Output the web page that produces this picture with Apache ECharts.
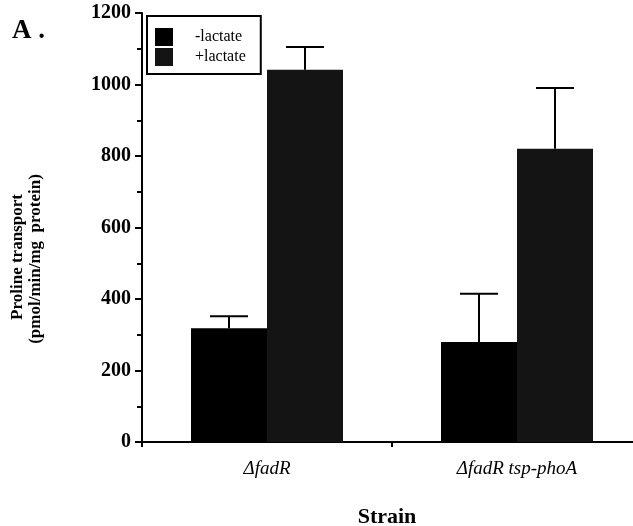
<!DOCTYPE html>
<html><head><meta charset="utf-8">
<script src="https://cdn.jsdelivr.net/npm/echarts@6/dist/echarts.min.js"></script>
<style>html,body{margin:0;padding:0;background:#fff;overflow:hidden}#c{width:650px;height:526px}</style>
</head><body><div id="c"></div>
<script>
const categories = ['ΔfadR', 'ΔfadR tsp-phoA'];
const seriesNames = ['-lactate', '+lactate'];
const minusLactate = [318, 280];
const plusLactate = [1041, 820];
const minusLactateErr = [34, 135];
const plusLactateErr = [64, 170];
const yTicks = [0, 200, 400, 600, 800, 1000, 1200];

const FONT = 'Liberation Serif';
const BAR_W = 76;
const chart = echarts.init(document.getElementById('c'), null, {renderer: 'canvas'});

function errSeries(vals, errs, side) {
  return {
    type: 'custom',
    z: 5,
    data: vals.map((v, i) => [i, v, errs[i]]),
    encode: {x: 0, y: 1},
    renderItem: function (params, api) {
      const ci = api.value(0), v = api.value(1), e = api.value(2);
      const p0 = api.coord([ci, v]);
      const p1 = api.coord([ci, v + e]);
      const x = p0[0] + side * BAR_W / 2;
      const st = {stroke: '#000', lineWidth: 2};
      return {type: 'group', children: [
        {type: 'line', shape: {x1: x, y1: p0[1], x2: x, y2: p1[1]}, style: st},
        {type: 'line', shape: {x1: x - 19, y1: p1[1], x2: x + 19, y2: p1[1]}, style: st}
      ]};
    }
  };
}

chart.setOption({
  animation: false,
  backgroundColor: '#fff',
  grid: {left: 142, right: 8, top: 13, bottom: 84},
  legend: {
    orient: 'vertical', left: 147, top: 16,
    data: seriesNames,
    borderColor: '#000', borderWidth: 2,
    padding: [12, 15, 8, 8],
    itemWidth: 18, itemHeight: 18, itemGap: 2,
    icon: 'rect',
    textStyle: {fontFamily: FONT, fontSize: 16, color: '#000', padding: [0, 0, 0, 17]}
  },
  xAxis: {
    type: 'category', data: categories,
    axisLine: {lineStyle: {color: '#000', width: 2}},
    axisTick: {show: true, length: 5, lineStyle: {color: '#000', width: 2}},
    axisLabel: {fontFamily: FONT, fontStyle: 'italic', fontSize: 19, color: '#000', margin: 17}
  },
  yAxis: {
    type: 'value', min: yTicks[0], max: yTicks[yTicks.length - 1], interval: 200,
    axisLine: {show: true, lineStyle: {color: '#000', width: 2}},
    axisTick: {show: true, length: 7, lineStyle: {color: '#000', width: 2}},
    minorTick: {show: true, splitNumber: 2, length: 5, lineStyle: {color: '#000', width: 2}},
    splitLine: {show: false},
    axisLabel: {fontFamily: FONT, fontWeight: 'bold', fontSize: 20, color: '#000', margin: 11,
                formatter: v => String(v)}
  },
  graphic: [
    {type: 'text', left: 12, top: 18, style: {text: 'A .', font: 'bold 27px "Liberation Serif"', fill: '#000'}},
    {type: 'text', x: 18, y: 257, rotation: Math.PI / 2,
     style: {text: 'Proline transport', font: 'bold 17px "Liberation Serif"', fill: '#000', textAlign: 'center', textVerticalAlign: 'middle'}},
    {type: 'text', x: 36, y: 259, rotation: Math.PI / 2,
     style: {text: '(pmol/min/mg  protein)', font: 'bold 17px "Liberation Serif"', fill: '#000', textAlign: 'center', textVerticalAlign: 'middle'}},
    {type: 'text', x: 387, y: 517,
     style: {text: 'Strain', font: 'bold 22px "Liberation Serif"', fill: '#000', textAlign: 'center', textVerticalAlign: 'middle'}}
  ],
  series: [
    {name: seriesNames[0], type: 'bar', data: minusLactate, barWidth: BAR_W, barGap: '0%', itemStyle: {color: '#000'}},
    {name: seriesNames[1], type: 'bar', data: plusLactate, barWidth: BAR_W, barGap: '0%', itemStyle: {color: '#141414'}},
    errSeries(minusLactate, minusLactateErr, -1),
    errSeries(plusLactate, plusLactateErr, 1)
  ]
});
</script></body></html>
